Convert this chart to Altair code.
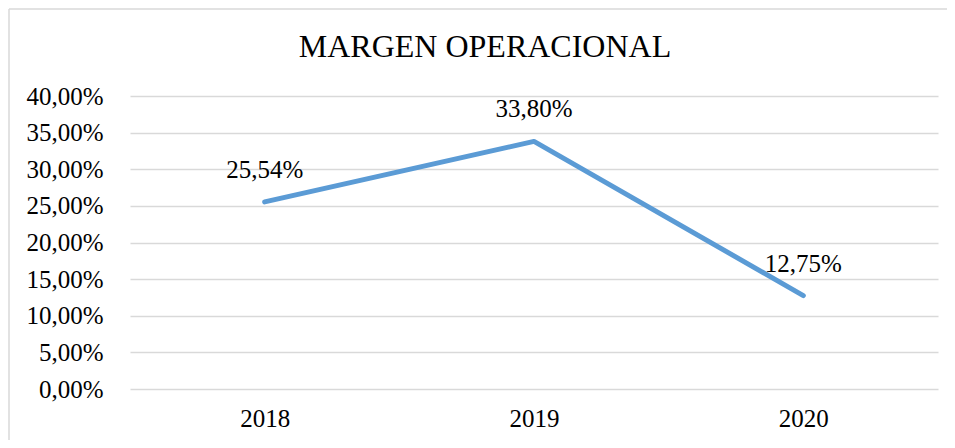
import altair as alt
import pandas as pd

years = ["2018", "2019", "2020"]
values = [0.2554, 0.3380, 0.1275]
labels = ["25,54%", "33,80%", "12,75%"]
y_ticks = [0, 0.05, 0.1, 0.15, 0.2, 0.25, 0.3, 0.35, 0.4]

df = pd.DataFrame({"year": years, "value": values, "label": labels})

FONT = "Liberation Serif"

base = alt.Chart(df)

x = alt.X("year:O", title=None,
          scale=alt.Scale(paddingOuter=0.5),
          axis=alt.Axis(labelAngle=0, domain=False, ticks=False, grid=False,
                        labelFont=FONT, labelFontSize=25, labelColor="#000000",
                        labelPadding=17))
y = alt.Y("value:Q", title=None,
          scale=alt.Scale(domain=[0, 0.4]),
          axis=alt.Axis(values=y_ticks,
                        labelExpr="replace(format(datum.value, '.2%'), '.', ',')",
                        labelOverlap=False,
                        domain=False, ticks=False, grid=True,
                        gridColor="#d9d9d9", gridWidth=1.5,
                        labelFont=FONT, labelFontSize=25, labelColor="#000000",
                        labelPadding=27))

line = base.mark_line(color="#5b9bd5", strokeWidth=5, strokeCap="round",
                      strokeJoin="round").encode(x=x, y=y)

text = base.mark_text(font=FONT, fontSize=25, color="#000000",
                      baseline="alphabetic", dy=-24).encode(
    x=x, y=y, text="label:N")

top_border = alt.Chart(pd.DataFrame({"a": [0]})).mark_rule(
    color="#d9d9d9", strokeWidth=1.5).encode(
    x=alt.value(-121), x2=alt.value(820), y=alt.value(-87))
left_border = alt.Chart(pd.DataFrame({"a": [0]})).mark_rule(
    color="#d9d9d9", strokeWidth=1.5).encode(
    x=alt.value(-121), y=alt.value(-87), y2=alt.value(345))

chart = alt.layer(top_border, left_border, line, text).properties(
    width=808, height=293,
    autosize=alt.AutoSizeParams(type="none"),
    padding={"left": 122, "top": 88, "right": 9, "bottom": 51},
    title=alt.TitleParams("MARGEN OPERACIONAL", font=FONT, fontSize=32,
                          fontWeight="normal", color="#000000",
                          anchor="middle", dx=-49, offset=-56),
).configure_view(stroke=None)

chart.save("out.html", embed_options={"renderer": "svg", "actions": False})
